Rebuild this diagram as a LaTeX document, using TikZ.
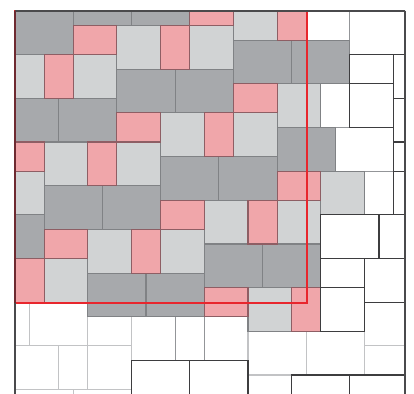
\documentclass[tikz,border=0pt]{standalone}
\definecolor{dkgray}{HTML}{A7A9AC}
\definecolor{ltgray}{HTML}{D1D3D4}
\definecolor{pinkc}{HTML}{F0A6AA}
\definecolor{edgegray}{HTML}{808285}
\definecolor{pinkedge}{HTML}{8E5E64}
\definecolor{wlight}{HTML}{C2C3C5}
\definecolor{wmed}{HTML}{939598}
\definecolor{wblack}{HTML}{3D3D3F}
\definecolor{redc}{HTML}{E8262D}
\definecolor{borderc}{HTML}{4A4A4C}
\definecolor{maroon}{HTML}{6E2A30}
\tikzset{
  dk/.style={fill=dkgray,draw=edgegray},
  lt/.style={fill=ltgray,draw=edgegray},
  pk/.style={fill=pinkc,draw=pinkedge},
  wl/.style={fill=white,draw=wlight},
  wm/.style={fill=white,draw=wmed},
  wb/.style={fill=white,draw=wblack},
  redsq/.style={draw=redc,line width=2pt},
  brd/.style={draw=borderc,line width=1.6pt}
}
\begin{document}
\begin{tikzpicture}[x=14.56pt,y=-14.56pt,line width=1.1pt]
\useasboundingbox (-1.030,-0.755) rectangle (27.404,26.305);
\begin{scope}
\clip (0,0) rectangle (26.8,26.305);
% light-outlined white tiles
\foreach \x/\y in {-3/20,1/20,0/26,4/26,16/22,20/22,24/20} \path[wl] (\x,\y) rectangle ++(4,3);
\foreach \x/\y in {8/21,13/21,0/23,5/23} \path[wl] (\x,\y) rectangle ++(3,3);
\foreach \x/\y in {5/21,24/23,16/25} \path[wl] (\x,\y) rectangle ++(3,2);
\foreach \x/\y in {3/23} \path[wl] (\x,\y) rectangle ++(2,3);
% medium-outlined white tiles
\foreach \x/\y in {23/0,22/8} \path[wm] (\x,\y) rectangle ++(4,3);
\foreach \x/\y in {20/-1} \path[wm] (\x,\y) rectangle ++(3,3);
\foreach \x/\y in {21/5,24/11,11/21} \path[wm] (\x,\y) rectangle ++(2,3);
% coloured tiles
\foreach \x/\y in {0/0,4/-2,8/-2,-1/6,3/6,7/4,11/4,15/2,19/2,2/12,6/12,10/10,14/10,18/8,-2/14,5/18,9/18,13/16,17/16}
  \path[dk] (\x,\y) rectangle ++(4,3);
\foreach \x/\y in {7/1,12/1,-1/3,4/3,15/-1,10/7,15/7,2/9,7/9,-1/11,18/5,13/13,18/13,5/15,10/15,2/17,16/19,21/11}
  \path[lt] (\x,\y) rectangle ++(3,3);
\foreach \x/\y in {4/1,12/-1,7/7,-1/9,15/5,10/13,2/15,18/11,13/19}
  \path[pk] (\x,\y) rectangle ++(3,2);
\foreach \x/\y in {10/1,18/-1,2/3,13/7,5/9,16/13,8/15,0/17,19/19}
  \path[pk] (\x,\y) rectangle ++(2,3);
% dark-outlined white tiles
\foreach \x/\y in {26/6,21/14,25/14,8/24,12/24,19/25,23/25} \path[wb] (\x,\y) rectangle ++(4,3);
\foreach \x/\y in {23/5,26/3,26/11,24/17,21/19} \path[wb] (\x,\y) rectangle ++(3,3);
\foreach \x/\y in {23/3,26/9,21/17} \path[wb] (\x,\y) rectangle ++(3,2);
\end{scope}
% red square
\draw[redsq] (0,0) rectangle (20.03,20.03);
% frame
\draw[brd] (0,0) -- (26.8,0);
\draw[brd] (26.8,0) -- (26.8,26.305);
\draw[brd,draw=maroon] (0,0) -- (0,20.03);
\draw[brd] (0,20.03) -- (0,26.305);
\end{tikzpicture}
\end{document}
